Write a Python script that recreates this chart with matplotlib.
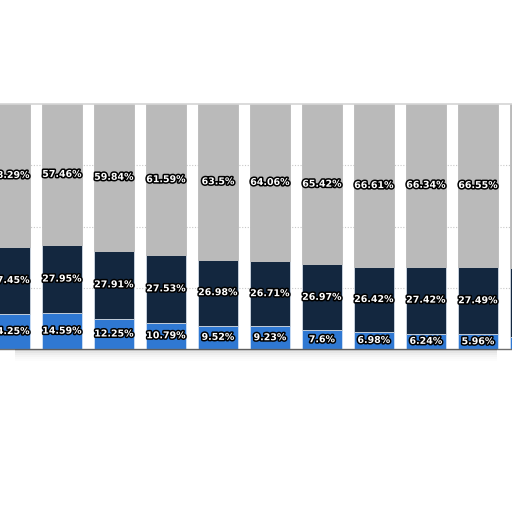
import numpy as np
import matplotlib.pyplot as plt
import matplotlib.patheffects as pe

# share of each segment per bar (%), left to right
grey_vals = [58.29, 57.46, 59.84, 61.59, 63.5, 64.06, 65.42, 66.61, 66.34, 66.55, 66.9]
dark_vals = [27.45, 27.95, 27.91, 27.53, 26.98, 26.71, 26.97, 26.42, 27.42, 27.49, 28.2]
blue_vals = [14.25, 14.59, 12.25, 10.79, 9.52, 9.23, 7.6, 6.98, 6.24, 5.96, 4.9]
grey_labels = ['58.29%', '57.46%', '59.84%', '61.59%', '63.5%', '64.06%',
               '65.42%', '66.61%', '66.34%', '66.55%', '66.9%']
dark_labels = ['27.45%', '27.95%', '27.91%', '27.53%', '26.98%', '26.71%',
               '26.97%', '26.42%', '27.42%', '27.49%', '28.2%']
blue_labels = ['14.25%', '14.59%', '12.25%', '10.79%', '9.52%', '9.23%',
               '7.6%', '6.98%', '6.24%', '5.96%', '4.9%']

c_grey = '#bababa'
c_dark = '#13273f'
c_blue = '#2f78d2'

fig = plt.figure(figsize=(5.12, 5.12), dpi=100)
ax = fig.add_axes([0, 1 - 349 / 512, 1, 245 / 512])

x = np.arange(len(grey_vals))
w = 40 / 52
blue = np.array(blue_vals)
dark = np.array(dark_vals)
grey = np.array(grey_vals)

ax.bar(x, blue, w, color=c_blue, edgecolor='#cfe0f5', linewidth=0.6, zorder=2)
ax.bar(x, dark, w, bottom=blue, color=c_dark, edgecolor='#cfd8e3', linewidth=0.6, zorder=2)
ax.bar(x, grey, w, bottom=blue + dark, color=c_grey, edgecolor=c_grey, linewidth=0.6, zorder=2)

stroke = [pe.withStroke(linewidth=2.2, foreground='black')]
for i in x:
    for y, lab in [(blue[i] / 2, blue_labels[i]),
                   (blue[i] + dark[i] / 2, dark_labels[i]),
                   (blue[i] + dark[i] + grey[i] / 2, grey_labels[i])]:
        ax.text(i, y, lab, ha='center', va='center', color='white',
                fontsize=6.8, fontweight='bold', path_effects=stroke, zorder=3)

ax.set_xlim(-10 / 52, 502 / 52)
ax.set_ylim(0, 100)
ax.set_yticks([25, 50, 75])
ax.grid(axis='y', color='#c8c8c8', linestyle=(0, (1, 1.5)), linewidth=0.8, zorder=0)
ax.tick_params(left=False, bottom=False, labelleft=False, labelbottom=False)
for s in ['left', 'right']:
    ax.spines[s].set_visible(False)
ax.spines['top'].set_color('#d4d4d4')
ax.spines['top'].set_linewidth(1.2)
ax.spines['bottom'].set_color('#6e6e6e')
ax.spines['bottom'].set_linewidth(1.0)

# soft shadow under the plot area
for k, a in enumerate([0.14, 0.10, 0.07, 0.045, 0.025, 0.012]):
    fig.patches.append(plt.Rectangle((0.03, 1 - (351 + k * 2) / 512), 0.94, 2 / 512,
                                     transform=fig.transFigure, color='black',
                                     alpha=a, linewidth=0))

fig.savefig('out.png', dpi=100)
